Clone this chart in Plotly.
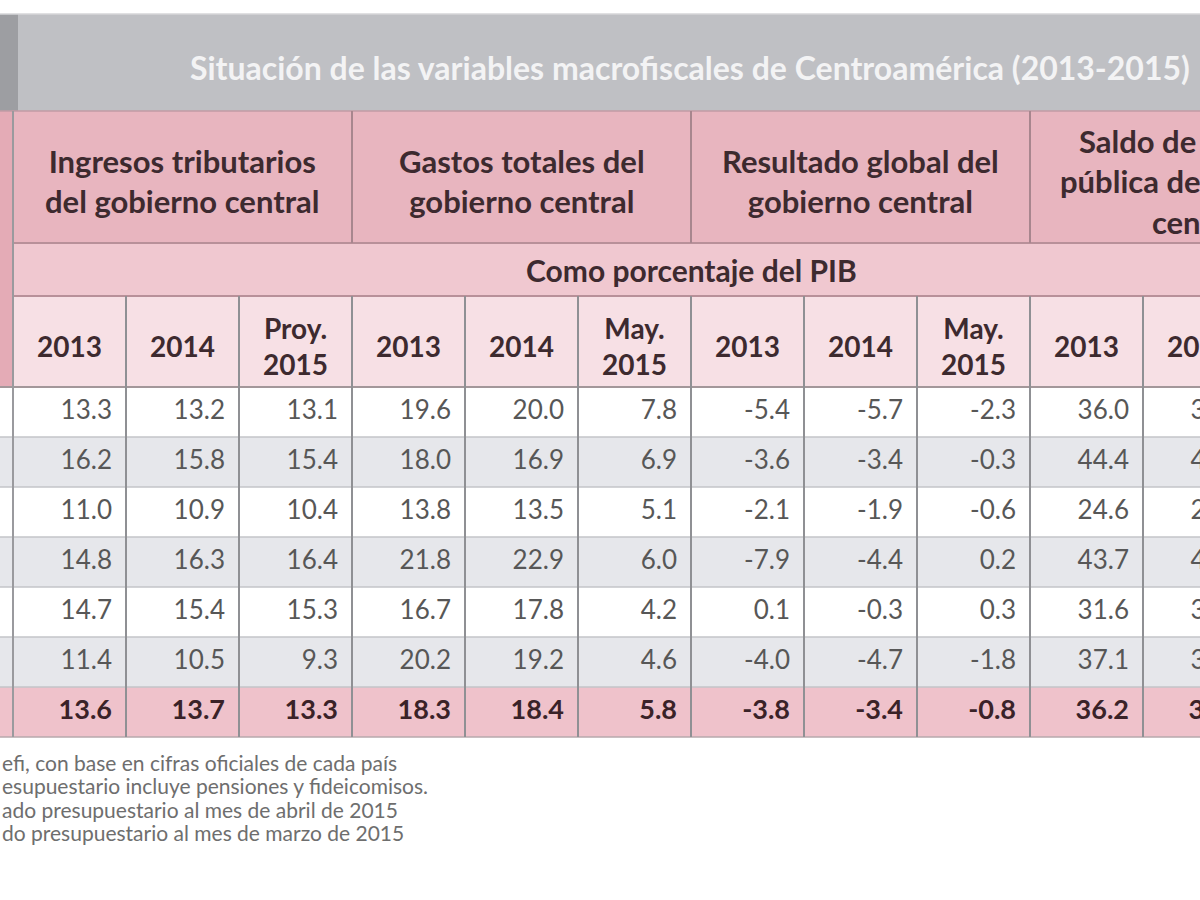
import plotly.graph_objects as go

# ---------------- data ----------------
title_text = "Situación de las variables macrofiscales de Centroamérica (2013-2015)"
group_labels = [
    "Ingresos tributarios<br>del gobierno central",
    "Gastos totales del<br>gobierno central",
    "Resultado global del<br>gobierno central",
    "Saldo de la deuda<br>pública del gobierno<br>central",
]
subheader = "Como porcentaje del PIB"
col_labels = ["2013", "2014", "Proy.<br>2015",
              "2013", "2014", "May.<br>2015",
              "2013", "2014", "May.<br>2015",
              "2013", "2014"]

ingresos_2013 = [13.3, 16.2, 11.0, 14.8, 14.7, 11.4, 13.6]
ingresos_2014 = [13.2, 15.8, 10.9, 16.3, 15.4, 10.5, 13.7]
ingresos_2015p = [13.1, 15.4, 10.4, 16.4, 15.3, 9.3, 13.3]
gastos_2013 = [19.6, 18.0, 13.8, 21.8, 16.7, 20.2, 18.3]
gastos_2014 = [20.0, 16.9, 13.5, 22.9, 17.8, 19.2, 18.4]
gastos_may2015 = [7.8, 6.9, 5.1, 6.0, 4.2, 4.6, 5.8]
resultado_2013 = [-5.4, -3.6, -2.1, -7.9, 0.1, -4.0, -3.8]
resultado_2014 = [-5.7, -3.4, -1.9, -4.4, -0.3, -4.7, -3.4]
resultado_may2015 = [-2.3, -0.3, -0.6, 0.2, 0.3, -1.8, -0.8]
deuda_2013 = [36.0, 44.4, 24.6, 43.7, 31.6, 37.1, 36.2]
deuda_2014 = [39.3, 45.2, 24.6, 44.5, 30.7, 37.6, 37.0]

footnotes = [
    "efi, con base en cifras oficiales de cada país",
    "esupuestario incluye pensiones y fideicomisos.",
    "ado presupuestario al mes de abril de 2015",
    "do presupuestario al mes de marzo de 2015",
]

columns = [ingresos_2013, ingresos_2014, ingresos_2015p,
           gastos_2013, gastos_2014, gastos_may2015,
           resultado_2013, resultado_2014, resultado_may2015,
           deuda_2013, deuda_2014]

# ---------------- layout geometry ----------------
FONT = "Lato"
X0 = 13          # left edge of first value column
CW = 113         # column width
TITLE_TOP, TITLE_BOT = 14, 111
GROUP_BOT = 243
PCT_BOT = 296
YEAR_BOT = 387
ROW_H = 50
n_rows = len(ingresos_2013)

edges = [X0 + i * CW for i in range(len(col_labels) + 1)]
row_tops = [YEAR_BOT + k * ROW_H for k in range(n_rows + 1)]
TABLE_BOT = row_tops[-1]

shapes = []
def rect(x0, y0, x1, y1, color):
    shapes.append(dict(type="rect", xref="x", yref="y", x0=x0, x1=x1, y0=y0, y1=y1,
                       fillcolor=color, line=dict(width=0), layer="below"))
def line(x0, y0, x1, y1, color, w):
    shapes.append(dict(type="line", xref="x", yref="y", x0=x0, x1=x1, y0=y0, y1=y1,
                       line=dict(color=color, width=w), layer="above"))

# title band
rect(0, TITLE_TOP, 1200, TITLE_BOT, "#bfc0c4")
rect(0, TITLE_TOP, 18, TITLE_BOT, "#9d9ea2")
line(0, TITLE_TOP, 1200, TITLE_TOP, "#d6d6d8", 1.5)

# header blocks
rect(0, TITLE_BOT, X0, YEAR_BOT, "#e4abb6")
rect(X0, TITLE_BOT, 1200, GROUP_BOT, "#e8b5bf")
rect(X0, GROUP_BOT, 1200, PCT_BOT, "#f0c8d0")
rect(X0, PCT_BOT, 1200, YEAR_BOT, "#f7e0e5")

# data rows
for k in range(n_rows):
    if k == n_rows - 1:
        c = "#efc2cb"
    elif k % 2 == 0:
        c = "#ffffff"
    else:
        c = "#e6e7eb"
    rect(0, row_tops[k], 1200, row_tops[k + 1], c)

# horizontal lines
line(0, TITLE_BOT, 1200, TITLE_BOT, "#c29ba4", 1.5)
line(X0, GROUP_BOT, 1200, GROUP_BOT, "#b89099", 2)
line(X0, PCT_BOT, 1200, PCT_BOT, "#b89099", 2)
line(0, YEAR_BOT, 1200, YEAR_BOT, "#a3979a", 2)
for k in range(1, n_rows):
    line(0, row_tops[k], 1200, row_tops[k], "#c3c4c8", 1.5)
line(0, TABLE_BOT, 1200, TABLE_BOT, "#b7a9ad", 1.5)

# vertical lines
line(X0, TITLE_BOT, X0, TABLE_BOT, "#9a9a9e", 2)
for i, x in enumerate(edges[1:], start=1):
    if x > 1200:
        continue
    if i % 3 == 0:
        line(x, TITLE_BOT, x, GROUP_BOT, "#a8868e", 2)
    line(x, PCT_BOT, x, TABLE_BOT, "#8f9094", 2)

annotations = []
# title
annotations.append(dict(x=690, y=(TITLE_TOP + TITLE_BOT) / 2 + 5, xref="x", yref="y",
                        text="<b>" + title_text + "</b>", showarrow=False,
                        font=dict(family=FONT, size=32, color="#f3f3f4"),
                        xanchor="center", yanchor="middle"))
# group headers
for g, lab in enumerate(group_labels):
    cx = X0 + CW * (3 * g + 1.5)
    annotations.append(dict(x=min(cx, 1199), y=(TITLE_BOT + GROUP_BOT) / 2 + 4, xref="x", yref="y",
                            text="<b>" + lab + "</b>", showarrow=False,
                            font=dict(family=FONT, size=31, color="#3d2a2f"),
                            xanchor="center", yanchor="middle"))
# subheader
annotations.append(dict(x=691, y=(GROUP_BOT + PCT_BOT) / 2, xref="x", yref="y",
                        text="<b>" + subheader + "</b>", showarrow=False,
                        font=dict(family=FONT, size=30, color="#3d2a2f"),
                        xanchor="center", yanchor="middle"))
# column labels
for i, lab in enumerate(col_labels):
    cx = (edges[i] + edges[i + 1]) / 2
    annotations.append(dict(x=cx, y=(PCT_BOT + YEAR_BOT) / 2 + 4, xref="x", yref="y",
                            text="<b>" + lab + "</b>", showarrow=False,
                            font=dict(family=FONT, size=28, color="#3d2a2f"),
                            xanchor="center", yanchor="middle"))
# footnotes
for j, t in enumerate(footnotes):
    annotations.append(dict(x=0, y=762 + j * 23.5, xref="x", yref="y", text=t,
                            showarrow=False, font=dict(family=FONT, size=21, color="#6e6e6e"),
                            xanchor="left", yanchor="middle"))

fig = go.Figure()
# value cells
xs, ys, txt = [], [], []
xs_t, ys_t, txt_t = [], [], []
for i, col in enumerate(columns):
    xr = edges[i + 1] - 14
    for k, v in enumerate(col):
        yc = (row_tops[k] + row_tops[k + 1]) / 2
        if k == n_rows - 1:
            xs_t.append(xr); ys_t.append(yc); txt_t.append(f"<b>{v:.1f}</b>")
        else:
            xs.append(xr); ys.append(yc); txt.append(f"{v:.1f}")
fig.add_trace(go.Scatter(x=xs, y=ys, text=txt, mode="text", textposition="middle left",
                         textfont=dict(family=FONT, size=26, color="#575757"),
                         hoverinfo="skip", showlegend=False))
fig.add_trace(go.Scatter(x=xs_t, y=ys_t, text=txt_t, mode="text", textposition="middle left",
                         textfont=dict(family=FONT, size=27, color="#3a2228"),
                         hoverinfo="skip", showlegend=False))

fig.update_layout(
    width=1200, height=900,
    margin=dict(l=0, r=0, t=0, b=0),
    paper_bgcolor="#ffffff", plot_bgcolor="#ffffff",
    xaxis=dict(range=[0, 1200], visible=False, fixedrange=True),
    yaxis=dict(range=[900, 0], visible=False, fixedrange=True),
    shapes=shapes, annotations=annotations,
)

fig.write_html("out.html", config={"displayModeBar": False},
               post_script="document.body.style.margin='0px';document.body.style.overflow='hidden';")
